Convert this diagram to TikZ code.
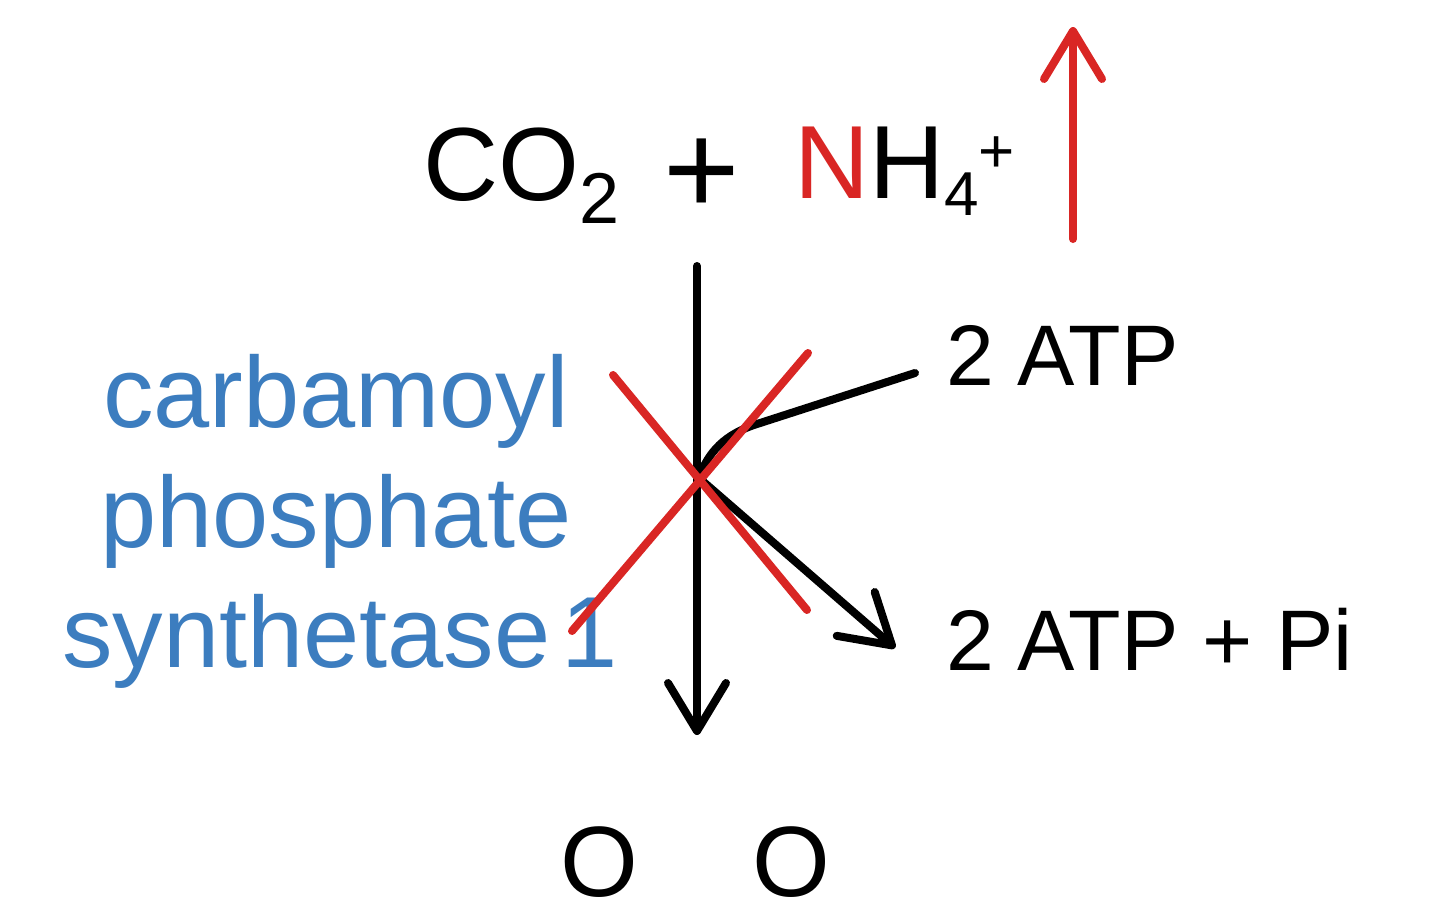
\documentclass[tikz,border=0pt]{standalone}
\usepackage{fontspec}
\setmainfont{Liberation Sans}
\usetikzlibrary{arrows.meta}
\definecolor{cred}{RGB}{217,38,36}
\definecolor{cblue}{RGB}{60,125,191}
\begin{document}
\begin{tikzpicture}[x=1pt,y=-1pt,
  txt/.style={inner sep=0pt, outer sep=0pt},
  big/.style={txt, font=\fontsize{104}{120}\selectfont},
  mid/.style={txt, font=\fontsize{86}{100}\selectfont},
  enz/.style={txt, text=cblue, font=\fontsize{101}{120}\selectfont},
  barb/.style={-{Straight Barb[length=48pt,width=58pt,line cap=round,line join=round]}},
  blk/.style={draw=black, line width=8pt, line cap=round},
  redl/.style={draw=cred, line width=8pt, line cap=round}]
\useasboundingbox (0,0) rectangle (1440,918);
\fill[white] (0,0) rectangle (1440,918);
% texts
\node[big, anchor=base west] (co2) at (423,200) {CO\raisebox{-23pt}{\fontsize{72}{72}\selectfont 2}};
\node[txt, anchor=base, font=\fontsize{131}{131}\selectfont] (plus) at (702,214) {+};
\node[big, anchor=base west] (nh4) at (794,198) {\textcolor{cred}{N}H\raisebox{-17pt}{\fontsize{62}{62}\selectfont 4}\raisebox{26pt}{\fontsize{62}{62}\selectfont +}};
\node[mid, anchor=base west] (atp) at (946,385) {2 ATP};
\node[mid, anchor=base west] (prod) at (946,670) {2 ATP + Pi};
\node[enz, anchor=base] (e1) at (336,427) {carbamoyl};
\node[enz, anchor=base] (e2) at (336,547) {phosphate};
\node[enz, anchor=base west] (e3) at (62,667) {\spaceskip=11pt synthetase 1};
\node[txt, anchor=base west, font=\fontsize{100}{120}\selectfont] (o1) at (560,896) {O};
\node[txt, anchor=base west, font=\fontsize{100}{120}\selectfont] (o2) at (752,896) {O};
% coordinates
\coordinate (vtop) at (697,266);
\coordinate (vbot) at (697,735);
\coordinate (c) at (699,478);
\coordinate (atpin) at (915,373);
\coordinate (bend) at (757,424);
\coordinate (prodtip) at (895,648);
\coordinate (rtop) at (1073,27);
\coordinate (rbot) at (1073,239);
\coordinate (xa) at (613,375);
\coordinate (xb) at (807,610);
\coordinate (xc) at (808,353);
\coordinate (xd) at (572,631);
% black connectors
\draw[blk, barb] (vtop) -- (vbot);
\draw[blk] (atpin) -- (bend) .. controls (725,434) and (708,452) .. (c);
\draw[blk, barb] (c) -- (prodtip);
% red marks
\draw[redl] (xa) -- (xb);
\draw[redl] (xc) -- (xd);
\draw[redl, barb] (rbot) -- (rtop);
\end{tikzpicture}
\end{document}
